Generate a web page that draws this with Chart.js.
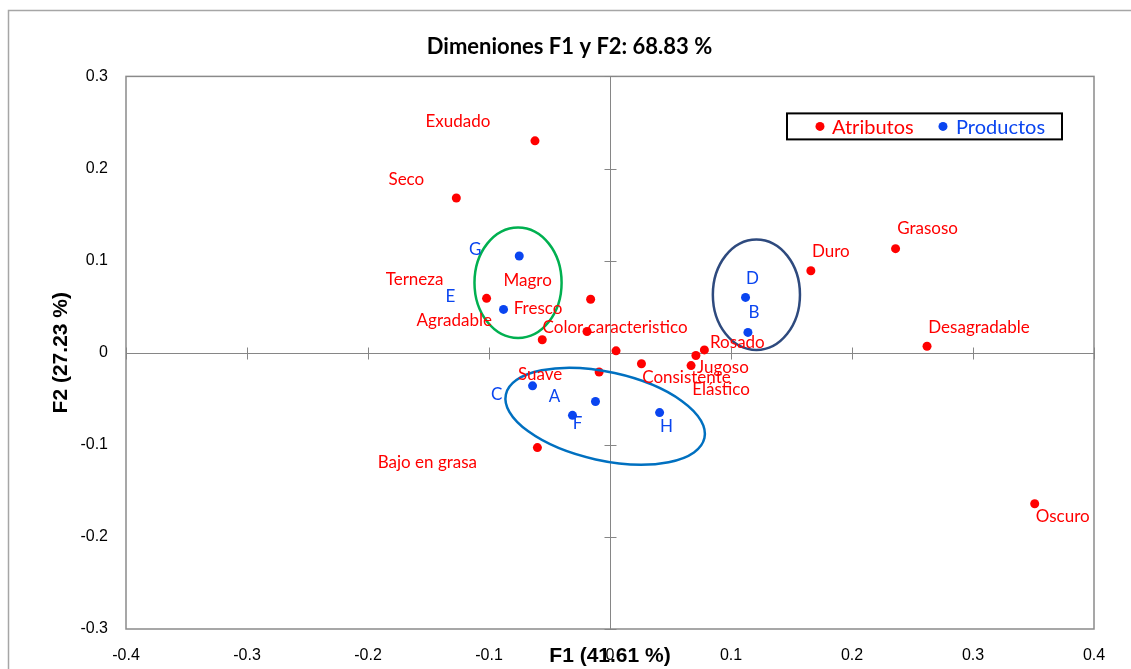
<!DOCTYPE html>
<html>
<head>
<meta charset="utf-8">
<script src="https://cdn.jsdelivr.net/npm/chart.js@4.4.0/dist/chart.umd.min.js"></script>
<style>
  html, body { margin: 0; padding: 0; background: #fff; }
  #wrap { width: 1131px; height: 669px; }
</style>
</head>
<body>
<div id="wrap"><canvas id="biplot" width="1131" height="669"></canvas></div>
<script>
// ---- data ----
const attrNames = ['Exudado', 'Seco', 'Terneza', 'Magro', 'Agradable', 'Fresco',
    'Color caracteristico', 'Suave', 'Consistente', 'Jugoso', 'Elástico', 'Rosado',
    'Bajo en grasa', 'Duro', 'Grasoso', 'Desagradable', 'Oscuro'];
const attrX = [-0.062, -0.127, -0.102, -0.016, -0.056, -0.019, 0.005, -0.009, 0.026,
    0.071, 0.067, 0.078, -0.060, 0.166, 0.236, 0.262, 0.351];
const attrY = [0.230, 0.168, 0.059, 0.058, 0.014, 0.023, 0.002, -0.021, -0.012,
    -0.003, -0.014, 0.003, -0.103, 0.089, 0.113, 0.007, -0.164];

const prodNames = ['A', 'B', 'C', 'D', 'E', 'F', 'G', 'H'];
const prodX = [-0.012, 0.114, -0.064, 0.112, -0.088, -0.031, -0.075, 0.041];
const prodY = [-0.053, 0.022, -0.036, 0.060, 0.047, -0.068, 0.105, -0.065];

// group ellipses (centre and semi-axes in axis units)
const ellCx = [-0.076, 0.121, -0.004];
const ellCy = [0.076, 0.063, -0.069];
const ellRx = [0.036, 0.036, 0.084];
const ellRy = [0.060, 0.060, 0.048];
const ellTilt = [0, 0, 12.4];

const xMin = -0.4, xMax = 0.4, yMin = -0.3, yMax = 0.3, tickStep = 0.1;

// ---- styling ----
const RED = '#ff0000';
const BLUE = '#0a45f0';
const ellColors = ['#00b050', '#2e4a7e', '#0070c0'];
const LABEL_FONT = '17px Lato';

// label shift from its point, px
const attrShift = [[-77, -19], [-50, -18], [-72, -19], [-63, -19], [-88, -19], [-49, -23],
    [-1, -23], [-59, 2], [45, 14], [27, 12], [30, 24], [33, -7],
    [-110, 15], [20, -19], [32, -20], [52, -19], [28, 13]];
const prodShift = [[-41, -5], [6, -20], [-36, 9], [7, -19], [-53, -13], [5, 8], [-44, -6], [7, 14]];

const px = v => Math.round(v) + 0.5;

const decor = {
    id: 'decor',
    beforeDatasetsDraw(chart) {
        const { ctx, chartArea: a, scales: { x, y } } = chart;
        ctx.save();
        // outer chart frame
        ctx.strokeStyle = '#a6a6a6';
        ctx.lineWidth = 1.5;
        ctx.strokeRect(8.5, 10.5, chart.width + 20, chart.height + 20);
        // plot box
        ctx.strokeStyle = '#8a8a8a';
        ctx.strokeRect(a.left, a.top, a.width, a.height);
        // axes through the origin, with cross ticks
        const x0 = px(x.getPixelForValue(0)), y0 = px(y.getPixelForValue(0));
        ctx.strokeStyle = '#868686';
        ctx.lineWidth = 1;
        ctx.beginPath();
        ctx.moveTo(a.left, y0); ctx.lineTo(a.right, y0);
        ctx.moveTo(x0, a.top); ctx.lineTo(x0, a.bottom);
        x.ticks.forEach(t => {
            const p = px(x.getPixelForValue(t.value));
            ctx.moveTo(p, y0 - 6); ctx.lineTo(p, y0 + 6);
        });
        y.ticks.forEach(t => {
            const p = px(y.getPixelForValue(t.value));
            ctx.moveTo(x0 - 6, p); ctx.lineTo(x0 + 6, p);
        });
        ctx.stroke();
        ctx.restore();
    },
    afterDatasetsDraw(chart) {
        const { ctx, chartArea: a, scales: { x, y } } = chart;
        ctx.save();

        // ellipses round the product groups
        ellCx.forEach((cxv, i) => {
            const cx = x.getPixelForValue(cxv), cy = y.getPixelForValue(ellCy[i]);
            const rx = Math.abs(x.getPixelForValue(cxv + ellRx[i]) - cx);
            const ry = Math.abs(y.getPixelForValue(ellCy[i] + ellRy[i]) - cy);
            ctx.beginPath();
            ctx.ellipse(cx, cy, rx, ry, ellTilt[i] * Math.PI / 180, 0, Math.PI * 2);
            ctx.strokeStyle = ellColors[i];
            ctx.lineWidth = 2.5;
            ctx.stroke();
        });

        // point labels
        ctx.font = LABEL_FONT;
        ctx.textAlign = 'center';
        ctx.textBaseline = 'middle';
        const sets = [[attrNames, attrShift, RED], [prodNames, prodShift, BLUE]];
        sets.forEach(([names, shift, col], di) => {
            const meta = chart.getDatasetMeta(di);
            ctx.fillStyle = col;
            meta.data.forEach((el, i) => {
                ctx.fillText(names[i], el.x + shift[i][0], el.y + shift[i][1]);
            });
        });

        // boxed legend, top right
        const bw = 275, bh = 26;
        const bx = a.right - 32 - bw, by = a.top + 37;
        ctx.strokeStyle = '#000';
        ctx.lineWidth = 2;
        ctx.strokeRect(bx, by, bw, bh);
        ctx.font = '20px Lato';
        ctx.textAlign = 'left';
        const items = [[33, 45], [156, 169]];
        chart.data.datasets.forEach((ds, i) => {
            const cy = by + bh / 2;
            ctx.fillStyle = ds.backgroundColor;
            ctx.beginPath();
            ctx.arc(bx + items[i][0], cy, 4.5, 0, Math.PI * 2);
            ctx.fill();
            ctx.fillText(ds.label, bx + items[i][1], cy + 1);
        });
        ctx.restore();
    }
};

const tickFont = { family: 'Liberation Sans', size: 16 };
const axisTitleFont = { family: 'Liberation Sans', size: 21, weight: 'bold' };

new Chart(document.getElementById('biplot'), {
    type: 'scatter',
    data: {
        datasets: [
            {
                label: 'Atributos',
                data: attrX.map((v, i) => ({ x: v, y: attrY[i] })),
                backgroundColor: RED,
                borderColor: RED,
                pointRadius: 4.5, pointHoverRadius: 4.5, borderWidth: 0
            },
            {
                label: 'Productos',
                data: prodX.map((v, i) => ({ x: v, y: prodY[i] })),
                backgroundColor: BLUE,
                borderColor: BLUE,
                pointRadius: 4.5, pointHoverRadius: 4.5, borderWidth: 0
            }
        ]
    },
    options: {
        responsive: false,
        animation: false,
        devicePixelRatio: 1,
        layout: { padding: { left: 8, right: 0, top: 0, bottom: 0 } },
        plugins: {
            legend: { display: false },
            tooltip: { enabled: false },
            title: {
                display: true,
                text: 'Dimeniones F1 y F2: 68.83 %',
                color: '#000',
                font: { family: 'Lato', size: 22, weight: 'bold' },
                padding: { top: 34, bottom: 16 }
            }
        },
        scales: {
            x: {
                type: 'linear',
                position: 'bottom',
                min: xMin, max: xMax,
                grid: { display: false, drawTicks: false },
                border: { display: false },
                ticks: {
                    stepSize: tickStep, color: '#000', font: tickFont, padding: 17,
                    callback: v => Math.abs(v) < 1e-9 ? '0' : v.toFixed(1)
                },
                title: {
                    display: true, text: 'F1 (41.61 %)', color: '#000',
                    font: axisTitleFont, padding: { top: 0, bottom: 0 }
                },
                afterFit: s => { s.height = 40; }
            },
            y: {
                type: 'linear',
                position: 'left',
                min: yMin, max: yMax,
                grid: { display: false, drawTicks: false },
                border: { display: false },
                ticks: {
                    stepSize: tickStep, color: '#000', font: tickFont, padding: 18,
                    callback: v => Math.abs(v) < 1e-9 ? '0' : v.toFixed(1)
                },
                title: {
                    display: true, text: 'F2 (27.23 %)', color: '#000',
                    font: axisTitleFont, padding: { top: 41, bottom: 0 }
                },
                afterFit: s => { s.width = 118; }
            },
            // spacer on the right so the plot box ends where the original does
            yRight: {
                type: 'linear',
                position: 'right',
                display: true,
                grid: { display: false, drawTicks: false },
                border: { display: false },
                ticks: { display: false },
                afterFit: s => { s.width = 37; }
            }
        }
    },
    plugins: [decor]
});
</script>
</body>
</html>
